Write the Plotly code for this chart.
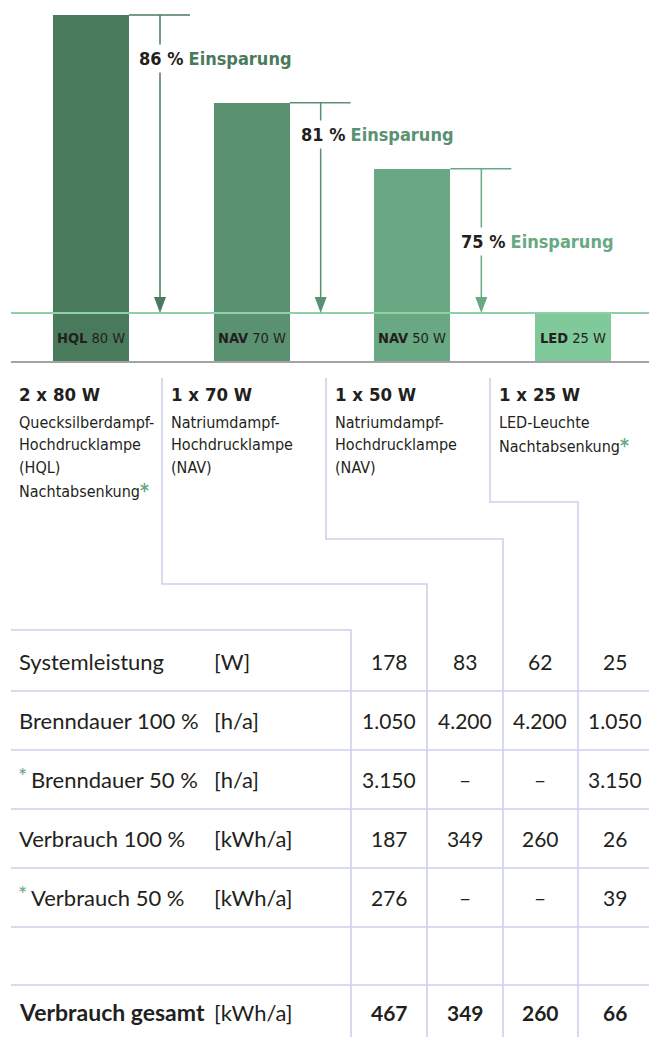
import plotly.graph_objects as go

W, H = 649, 1037

# ---------------- data ----------------
lamp_types = ["HQL", "NAV", "NAV", "LED"]
lamp_watts = ["80 W", "70 W", "50 W", "25 W"]
config_titles = ["2 x 80 W", "1 x 70 W", "1 x 50 W", "1 x 25 W"]
descriptions = [
    ["Quecksilberdampf-", "Hochdrucklampe", "(HQL)", "Nachtabsenkung*"],
    ["Natriumdampf-", "Hochdrucklampe", "(NAV)"],
    ["Natriumdampf-", "Hochdrucklampe", "(NAV)"],
    ["LED-Leuchte", "Nachtabsenkung*"],
]
row_labels = ["Systemleistung", "Brenndauer 100 %", "*Brenndauer 50 %",
              "Verbrauch 100 %", "*Verbrauch 50 %", "", "Verbrauch gesamt"]
row_units = ["[W]", "[h/a]", "[h/a]", "[kWh/a]", "[kWh/a]", "", "[kWh/a]"]
systemleistung = ["178", "83", "62", "25"]
brenndauer_100 = ["1.050", "4.200", "4.200", "1.050"]
brenndauer_50 = ["3.150", "–", "–", "3.150"]
verbrauch_100 = ["187", "349", "260", "26"]
verbrauch_50 = ["276", "–", "–", "39"]
empty_row = ["", "", "", ""]
verbrauch_gesamt = [467, 349, 260, 66]

# ---------------- styles ----------------
bar_colors = ["#4a7a5c", "#5a9170", "#68a882", "#80c99b"]
GREEN_LINE = "#8fd0a6"
GRAY_LINE = "#a3a3a3"
LAV = "#cdd1ec"
TXT = "#231f20"
STAR = "#68a882"
COND = "DejaVu Sans Condensed, sans-serif"
TAB = "Lato, Open Sans, sans-serif"

# pixel geometry of the bar area
base_px = 362          # pixel of value 0
k = 347 / 467          # pixels per kWh/a
x0_px, dx_px = 91, 160.67


def px(x):
    return x / W


def py(y):
    return 1 - y / H


fig = go.Figure()
fig.add_trace(go.Bar(
    x=list(range(4)), y=verbrauch_gesamt, width=76 / dx_px,
    marker=dict(color=bar_colors, line=dict(width=0)),
    hoverinfo="skip", showlegend=False,
))

shapes = []
annotations = []
led = verbrauch_gesamt[-1]

# green reference line at LED level and gray baseline
shapes.append(dict(type="line", xref="paper", yref="y", x0=px(11), x1=1, y0=led, y1=led,
                   line=dict(color=GREEN_LINE, width=2)))
shapes.append(dict(type="line", xref="paper", yref="y", x0=px(11), x1=1, y0=0, y1=0,
                   line=dict(color=GRAY_LINE, width=2)))

# savings arrows
label_pos = [(137, 58), (299, 134), (459, 242)]
half_w = 38 / dx_px
ax_off = 69 / dx_px
for i, total in enumerate(verbrauch_gesamt[:-1]):
    col = bar_colors[i]
    shapes.append(dict(type="line", xref="x", yref="y", x0=i + half_w, x1=i + 99 / dx_px,
                       y0=total, y1=total, line=dict(color=col, width=1.5)))
    shapes.append(dict(type="line", xref="x", yref="y", x0=i + ax_off, x1=i + ax_off,
                       y0=total, y1=led + 15 / k, line=dict(color=col, width=1.5)))
    a = 6 / dx_px
    b = 16 / k
    xa = i + ax_off
    shapes.append(dict(type="path", xref="x", yref="y",
                       path=f"M {xa - a},{led + b} L {xa + a},{led + b} L {xa},{led} Z",
                       fillcolor=col, line=dict(width=0)))
    saving = round((1 - led / total) * 100)
    lx, ly = label_pos[i]
    annotations.append(dict(
        xref="paper", yref="paper", x=px(lx - 2), y=py(ly), xanchor="left", yanchor="middle",
        text=f"<b>{saving} %</b> <b><span style='color:{col}'>Einsparung</span></b>",
        font=dict(family=COND, size=18, color=TXT), showarrow=False,
        bgcolor="white", borderpad=3))

# labels inside bars
for i in range(4):
    annotations.append(dict(
        xref="x", yref="paper", x=i, y=py(338), xanchor="center", yanchor="middle",
        text=f"<b>{lamp_types[i]}</b> {lamp_watts[i]}",
        font=dict(family=COND, size=14.5, color=TXT), showarrow=False))

# description blocks
col_x = [18, 170, 334, 498]
star = f"<span style='font-size:19px;color:{STAR}'><b>*</b></span>"
for i in range(4):
    annotations.append(dict(
        xref="paper", yref="paper", x=px(col_x[i] - 1), y=py(394), xanchor="left", yanchor="middle",
        text=f"<b>{config_titles[i]}</b>", font=dict(family=COND, size=18.5, color=TXT),
        showarrow=False))
    for j, line in enumerate(descriptions[i]):
        t = line.replace("*", star)
        annotations.append(dict(
            xref="paper", yref="paper", x=px(col_x[i] - 1), y=py(422 + j * 22.7),
            xanchor="left", yanchor="middle", text=t,
            font=dict(family=COND, size=16, color=TXT), showarrow=False))

# separator / step lines
steps = [(162, 584, 427), (326, 539, 503), (490, 502, 578)]
for xs, ys, xe in steps:
    shapes.append(dict(type="path", xref="paper", yref="paper",
                       path=f"M {px(xs)},{py(378)} L {px(xs)},{py(ys)} L {px(xe)},{py(ys)} L {px(xe)},{py(H + 5)}",
                       line=dict(color=LAV, width=1.6)))

# table
shapes.append(dict(type="path", xref="paper", yref="paper",
                   path=f"M {px(11)},{py(630)} L {px(351)},{py(630)} L {px(351)},{py(H + 5)}",
                   line=dict(color=LAV, width=1.6)))
for yl in [691, 750, 809, 868, 927, 985]:
    shapes.append(dict(type="line", xref="paper", yref="paper", x0=px(11), x1=1,
                       y0=py(yl), y1=py(yl), line=dict(color=LAV, width=1.6)))

rows = [systemleistung, brenndauer_100, brenndauer_50, verbrauch_100, verbrauch_50, empty_row,
        [str(v) for v in verbrauch_gesamt]]
row_y = [661, 720, 779, 838, 897, 956, 1012]
val_x = [389, 465, 540, 615]
LS = 22
VS = 21
for r, vals in enumerate(rows):
    bold = r == len(rows) - 1
    lab = row_labels[r]
    lx = 17
    if lab.startswith("*"):
        annotations.append(dict(xref="paper", yref="paper", x=px(16), y=py(row_y[r] - 4),
                                xanchor="left", yanchor="middle", text="*",
                                font=dict(family=TAB, size=LS, color=STAR), showarrow=False))
        lab = lab[1:]
        lx = 29
    if bold:
        lab = f"<b>{lab}</b>"
    if lab:
        annotations.append(dict(xref="paper", yref="paper", x=px(lx), y=py(row_y[r]),
                                xanchor="left", yanchor="middle", text=lab,
                                font=dict(family=TAB, size=23 if bold else LS, color=TXT),
                                showarrow=False))
    if row_units[r]:
        annotations.append(dict(xref="paper", yref="paper", x=px(212), y=py(row_y[r]),
                                xanchor="left", yanchor="middle", text=row_units[r],
                                font=dict(family=TAB, size=LS, color=TXT), showarrow=False))
    for c, v in enumerate(vals):
        if v:
            annotations.append(dict(xref="paper", yref="paper", x=px(val_x[c]), y=py(row_y[r]),
                                    xanchor="center", yanchor="middle",
                                    text=f"<b>{v}</b>" if bold else v,
                                    font=dict(family=TAB, size=VS, color=TXT), showarrow=False))

fig.update_layout(
    width=W, height=H, margin=dict(l=0, r=0, t=0, b=0),
    paper_bgcolor="white", plot_bgcolor="white",
    xaxis=dict(range=[-x0_px / dx_px, (W - x0_px) / dx_px], visible=False, fixedrange=True),
    yaxis=dict(range=[-(H - base_px) / k, base_px / k], visible=False, fixedrange=True),
    shapes=shapes, annotations=annotations, bargap=0,
)

fig.write_html("out.html", config={"displayModeBar": False},
               post_script="document.body.style.margin='0';document.body.style.overflow='hidden';")
